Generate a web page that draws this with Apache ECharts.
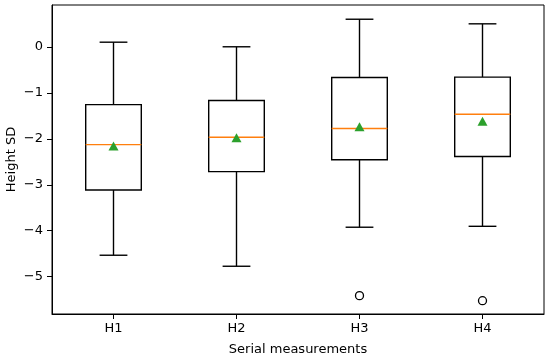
<!DOCTYPE html>
<html><head><meta charset="utf-8">
<script src="https://cdn.jsdelivr.net/npm/echarts@6/dist/echarts.min.js"></script>
<style>html,body{margin:0;padding:0;background:#fff}#c{width:550px;height:358px}</style>
</head><body><div id="c"></div>
<script>
const categories = ['H1', 'H2', 'H3', 'H4'];
// [whisker low, Q1, median, Q3, whisker high]
const boxValues = [
  [-4.54, -3.12, -2.13, -1.26, 0.10],
  [-4.78, -2.72, -1.97, -1.17, 0.00],
  [-3.93, -2.46, -1.78, -0.67, 0.60],
  [-3.91, -2.39, -1.47, -0.66, 0.50]
];
const meanValues = [-2.16, -1.98, -1.74, -1.62];
const outliers = [['H3', -5.42], ['H4', -5.53]];
const yTicks = [-5, -4, -3, -2, -1, 0];

const chart = echarts.init(document.getElementById('c'), null, {renderer: 'canvas'});
const font = 'DejaVu Sans';
const boxData = boxValues.map((v, i) => [i].concat(v));
const tickStyle = {stroke: '#000', lineWidth: 1};

chart.setOption({
  animation: false,
  grid: {left: 52, right: 6, top: 5, bottom: 44, show: true, borderColor: '#000', borderWidth: 1, backgroundColor: 'transparent', outerBoundsMode: 'none', containLabel: false},
  xAxis: {
    type: 'category', data: categories, boundaryGap: true,
    axisLine: {onZero: false, lineStyle: {color: '#000', width: 1}},
    axisTick: {show: true, inside: false, alignWithLabel: true, length: 5, lineStyle: {color: '#000', width: 1}},
    axisLabel: {color: '#000', fontFamily: font, fontSize: 13, margin: 8},
    name: 'Serial measurements', nameLocation: 'middle', nameGap: 29, nameMoveOverlap: false,
    nameTextStyle: {color: '#000', fontFamily: font, fontSize: 13},
    splitLine: {show: false}
  },
  yAxis: {
    type: 'value', min: -5.82, max: 0.91,
    axisLine: {show: true, onZero: false, lineStyle: {color: '#000', width: 1}},
    axisTick: {show: false},
    axisLabel: {color: '#000', fontFamily: font, fontSize: 13, margin: 9, customValues: yTicks,
      formatter: v => (v < 0 ? '\u2212' + Math.abs(v) : String(v))},
    splitLine: {show: false},
    name: 'Height SD', nameLocation: 'middle', nameGap: 34, nameRotate: 90, nameMoveOverlap: false,
    nameTextStyle: {color: '#000', fontFamily: font, fontSize: 13}
  },
  series: [
    {
      type: 'custom',
      data: boxData,
      encode: {x: 0, y: [1, 2, 3, 4, 5]},
      renderItem: function (params, api) {
        const idx = api.value(0);
        const lo = api.coord([idx, api.value(1)]);
        const q1 = api.coord([idx, api.value(2)]);
        const med = api.coord([idx, api.value(3)]);
        const q3 = api.coord([idx, api.value(4)]);
        const hi = api.coord([idx, api.value(5)]);
        const band = api.size([1, 0])[0];
        const hw = band * 0.226;
        const cw = hw / 2;
        const x = lo[0];
        const ls = {stroke: '#000', lineWidth: 1.4, fill: null};
        return {
          type: 'group',
          children: [
            {type: 'line', shape: {x1: x, y1: hi[1], x2: x, y2: q3[1]}, style: ls},
            {type: 'line', shape: {x1: x, y1: q1[1], x2: x, y2: lo[1]}, style: ls},
            {type: 'line', shape: {x1: x - cw, y1: hi[1], x2: x + cw, y2: hi[1]}, style: ls},
            {type: 'line', shape: {x1: x - cw, y1: lo[1], x2: x + cw, y2: lo[1]}, style: ls},
            {type: 'rect', shape: {x: x - hw, y: q3[1], width: 2 * hw, height: q1[1] - q3[1]}, style: {stroke: '#000', lineWidth: 1.4, fill: '#fff'}},
            {type: 'line', shape: {x1: x - hw, y1: med[1], x2: x + hw, y2: med[1]}, style: {stroke: '#ff7f0e', lineWidth: 1.4}}
          ]
        };
      },
      z: 2
    },
    {
      // y-axis tick marks at the labelled values
      type: 'custom', clip: false, silent: true,
      data: yTicks.map(v => [0, v]),
      encode: {x: 0, y: 1},
      renderItem: function (params, api) {
        const p = api.coord([0, api.value(1)]);
        const x0 = params.coordSys.x;
        const y = Math.round(p[1]) + 0.5;
        return {type: 'line', shape: {x1: x0 - 5, y1: y, x2: x0, y2: y}, style: tickStyle};
      },
      z: 6
    },
    {
      type: 'scatter',
      data: meanValues.map((v, i) => [categories[i], v]),
      symbol: 'triangle', symbolSize: [10, 9],
      itemStyle: {color: '#2ca02c', borderWidth: 0, opacity: 1},
      z: 5
    },
    {
      type: 'scatter',
      data: outliers,
      symbol: 'circle', symbolSize: 8,
      itemStyle: {color: 'rgba(255,255,255,0)', borderColor: '#000', borderWidth: 1.3, opacity: 1},
      z: 5
    }
  ]
});
</script>
</body></html>
